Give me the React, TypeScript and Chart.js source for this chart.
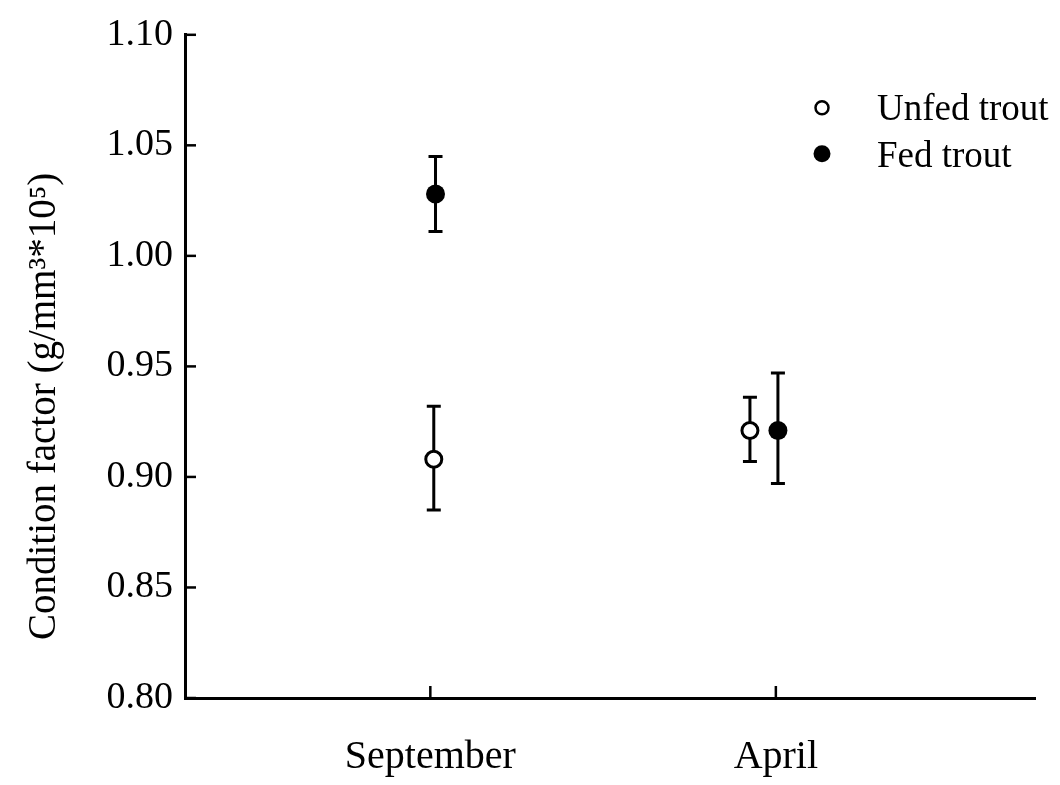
import React, { useEffect, useRef } from "react";
import { Chart, registerables } from "chart.js";

Chart.register(...registerables);

const categories = ["September", "April"];
const categoryPositions = [1, 2];
const yTicks = [0.8, 0.85, 0.9, 0.95, 1.0, 1.05, 1.1];
const seriesNames = ["Unfed trout", "Fed trout"];
const yTitle = "Condition factor (g/mm³*10⁵)";

const unfedX = [1.01, 1.925];
const unfedMean = [0.908, 0.921];
const unfedLow = [0.885, 0.907];
const unfedHigh = [0.932, 0.936];

const fedX = [1.015, 2.006];
const fedMean = [1.028, 0.921];
const fedLow = [1.011, 0.897];
const fedHigh = [1.045, 0.947];

const FONT = "'Liberation Serif', 'Times New Roman', serif";

const errorLows = [unfedLow, fedLow];
const errorHighs = [unfedHigh, fedHigh];

const errorBarPlugin = {
  id: "errorBars",
  beforeDatasetsDraw(chart: any) {
    const { ctx, scales } = chart;
    const xs = scales.x;
    const ys = scales.y;
    ctx.save();
    ctx.strokeStyle = "#000";
    ctx.lineWidth = 3;
    chart.data.datasets.forEach((ds: any, di: number) => {
      ds.data.forEach((p: any, i: number) => {
        const px = xs.getPixelForValue(p.x);
        const lo = ys.getPixelForValue(errorLows[di][i]);
        const hi = ys.getPixelForValue(errorHighs[di][i]);
        ctx.beginPath();
        ctx.moveTo(px, lo);
        ctx.lineTo(px, hi);
        ctx.moveTo(px - 7, lo);
        ctx.lineTo(px + 7, lo);
        ctx.moveTo(px - 7, hi);
        ctx.lineTo(px + 7, hi);
        ctx.stroke();
      });
    });
    ctx.restore();
  },
  afterDraw(chart: any) {
    const { ctx, scales, chartArea } = chart;
    const xs = scales.x;
    const ys = scales.y;
    ctx.save();
    ctx.strokeStyle = "#000";
    ctx.lineWidth = 2.5;
    // inward ticks
    yTicks.forEach((v) => {
      const py = ys.getPixelForValue(v);
      ctx.beginPath();
      ctx.moveTo(chartArea.left, py);
      ctx.lineTo(chartArea.left + 11, py);
      ctx.stroke();
    });
    categoryPositions.forEach((v) => {
      const px = xs.getPixelForValue(v);
      ctx.beginPath();
      ctx.moveTo(px, chartArea.bottom);
      ctx.lineTo(px, chartArea.bottom - 12);
      ctx.stroke();
    });
    // y axis title
    ctx.fillStyle = "#000";
    ctx.font = `39px ${FONT}`;
    ctx.textAlign = "center";
    ctx.textBaseline = "middle";
    ctx.translate(45, (chartArea.top + chartArea.bottom) / 2 + 40);
    ctx.rotate(-Math.PI / 2);
    ctx.fillText(yTitle, 0, 0);
    ctx.restore();

    // legend
    ctx.save();
    const lx = chartArea.right - 213;
    const ly0 = chartArea.top + 73;
    const gap = 46;
    ctx.font = `37px ${FONT}`;
    ctx.textAlign = "left";
    ctx.textBaseline = "alphabetic";
    ctx.fillStyle = "#000";
    ctx.strokeStyle = "#000";
    // unfed
    ctx.lineWidth = 2.5;
    ctx.beginPath();
    ctx.arc(lx, ly0, 6.5, 0, Math.PI * 2);
    ctx.fillStyle = "#fff";
    ctx.fill();
    ctx.stroke();
    ctx.fillStyle = "#000";
    ctx.fillText(seriesNames[0], lx + 55, ly0 + 12);
    // fed
    ctx.beginPath();
    ctx.arc(lx, ly0 + gap, 8.5, 0, Math.PI * 2);
    ctx.fill();
    ctx.fillText(seriesNames[1], lx + 55, ly0 + gap + 13);
    ctx.restore();
  },
};

export default function App() {
  const ref = useRef<HTMLCanvasElement | null>(null);
  useEffect(() => {
    if (!ref.current) return;
    const chart = new Chart(ref.current, {
      type: "scatter",
      data: {
        datasets: [
          {
            label: seriesNames[0],
            data: unfedX.map((x, i) => ({ x, y: unfedMean[i] })),
            pointRadius: 8,
            pointBackgroundColor: "#fff",
            pointBorderColor: "#000",
            pointBorderWidth: 3,
          },
          {
            label: seriesNames[1],
            data: fedX.map((x, i) => ({ x, y: fedMean[i] })),
            pointRadius: 9.5,
            pointBackgroundColor: "#000",
            pointBorderColor: "#000",
            pointBorderWidth: 0,
          },
        ],
      },
      options: {
        animation: false,
        responsive: true,
        maintainAspectRatio: false,
        layout: { padding: { left: 0, right: 25, top: 32, bottom: 0 } },
        plugins: {
          legend: { display: false },
          tooltip: { enabled: false },
        },
        scales: {
          x: {
            type: "linear",
            min: 0.29,
            max: 2.75,
            grid: { display: false, drawTicks: false },
            border: { display: true, color: "#000", width: 3 },
            afterBuildTicks: (scale: any) => {
              scale.ticks = categoryPositions.map((v) => ({ value: v }));
            },
            afterFit: (scale: any) => {
              scale.height = 87;
            },
            ticks: {
              autoSkip: false,
              maxRotation: 0,
              padding: 35,
              color: "#000",
              font: { family: FONT, size: 40 },
              callback: (v: any) => {
                const idx = categoryPositions.indexOf(v);
                return idx >= 0 ? categories[idx] : "";
              },
            },
          },
          y: {
            type: "linear",
            min: 0.8,
            max: 1.1,
            grid: { display: false, drawTicks: false },
            border: { display: true, color: "#000", width: 3 },
            afterBuildTicks: (scale: any) => {
              scale.ticks = yTicks.map((v) => ({ value: v }));
            },
            afterFit: (scale: any) => {
              scale.width = 185;
            },
            ticks: {
              autoSkip: false,
              padding: 12,
              color: "#000",
              font: { family: FONT, size: 38 },
              callback: (v: any) => Number(v).toFixed(2),
            },
          },
        },
      },
      plugins: [errorBarPlugin],
    });
    return () => chart.destroy();
  }, []);
  return (
    <div
      style={{
        position: "fixed",
        left: 0,
        top: 0,
        width: 1060,
        height: 785,
        background: "#fff",
      }}
    >
      <canvas ref={ref} />
    </div>
  );
}
